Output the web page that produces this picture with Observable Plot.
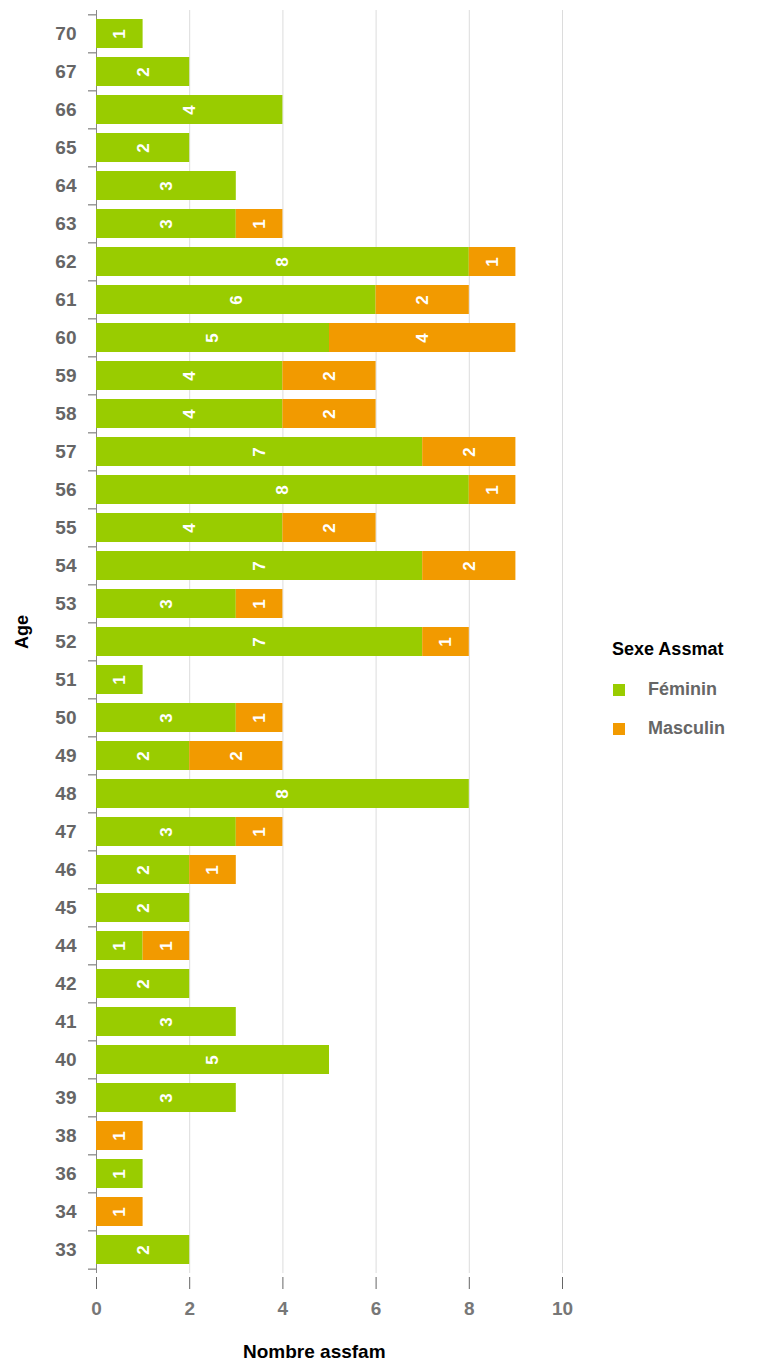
<!DOCTYPE html>
<html>
<head>
<meta charset="utf-8">
<script src="https://cdn.jsdelivr.net/npm/d3@7"></script>
<script src="https://cdn.jsdelivr.net/npm/@observablehq/plot@0.6"></script>
<style>
  body { margin: 0; background: #fff; }
  #wrap { position: relative; width: 758px; height: 1364px; font-family: "Liberation Sans", Arial, sans-serif; }
  .lbl { position: absolute; font-weight: bold; white-space: nowrap; }
  .sw { position: absolute; width: 12px; height: 12px; }
</style>
</head>
<body>
<div id="wrap"></div>
<script>
const ages = ["70","67","66","65","64","63","62","61","60","59","58","57","56","55","54","53","52","51","50","49","48","47","46","45","44","42","41","40","39","38","36","34","33"];
const feminin = [1,2,4,2,3,3,8,6,5,4,4,7,8,4,7,3,7,1,3,2,8,3,2,2,1,2,3,5,3,0,1,0,2];
const masculin = [0,0,0,0,0,1,1,2,4,2,2,2,1,2,2,1,1,0,1,2,0,1,1,0,1,0,0,0,0,1,0,1,0];
const series = ["Féminin","Masculin"];
const colors = ["#99cc00","#f29a00"];
const xTicks = [0,2,4,6,8,10];

const rows = [];
ages.forEach((a,i) => rows.push({age:a, sex:series[0], count:feminin[i]}));
ages.forEach((a,i) => rows.push({age:a, sex:series[1], count:masculin[i]}));
const nonzero = rows.filter(d => d.count > 0);

const W = 758, H = 1364, mt = 10, mb = 91, ml = 96, mr = 196;
const step = (H - mt - mb) / ages.length;

const chart = Plot.plot({
  width: W, height: H,
  marginTop: mt, marginBottom: mb, marginLeft: ml, marginRight: mr,
  style: {fontFamily: "'Liberation Sans', Arial, sans-serif", color: "#666", background: "#fff"},
  x: {domain: [0,10], axis: null, label: null},
  y: {domain: ages, paddingInner: 0.24, paddingOuter: 0.12, axis: null, label: null},
  color: {domain: series, range: colors},
  marks: [
    Plot.gridX(xTicks.filter(d => d > 0), {stroke: "#dcdcdc", strokeOpacity: 1}),
    Plot.ruleX([0], {stroke: "#888"}),
    Plot.barX(rows, Plot.stackX({x: "count", y: "age", fill: "sex"})),
    Plot.text(nonzero, Plot.stackX({x: "count", y: "age", z: "sex", text: d => String(d.count), rotate: -90, fill: "white", fontWeight: "bold", fontSize: 17})),
    Plot.axisY({tickSize: 8, text: null, label: null, dy: -step/2, stroke: "#666"}),
    Plot.axisY([ages[ages.length-1]], {tickSize: 8, text: null, label: null, dy: step/2, stroke: "#666"}),
    Plot.axisY({tickSize: 0, tickPadding: 20, label: null, fontSize: 19, fontWeight: "bold", fill: "#666"}),
    Plot.axisX({ticks: xTicks, tickSize: 12, dy: 4, tickPadding: 12, label: null, fontSize: 19, fontWeight: "bold", stroke: "#666", fill: "#777"})
  ]
});

const wrap = document.getElementById("wrap");
wrap.appendChild(chart);
chart.style.position = "absolute"; chart.style.left = "0"; chart.style.top = "0";

function addLabel(text, left, top, opts = {}) {
  const d = document.createElement("div");
  d.className = "lbl";
  d.textContent = text;
  d.style.left = left + "px"; d.style.top = top + "px";
  d.style.fontSize = (opts.size || 18) + "px";
  d.style.color = opts.color || "#000";
  wrap.appendChild(d);
  return d;
}
// x axis title
addLabel("Nombre assfam", 243, 1341, {size: 19});
// y axis title
const yt = addLabel("Age", 22, 632, {size: 18});
yt.style.transform = "translate(-50%,-50%) rotate(-90deg)";
// legend
addLabel("Sexe Assmat", 612, 639, {size: 18});
series.forEach((s, i) => {
  const sw = document.createElement("div");
  sw.className = "sw";
  sw.style.left = "613px"; sw.style.top = (684 + i*39) + "px";
  sw.style.background = colors[i];
  wrap.appendChild(sw);
  addLabel(s, 648, 679 + i*39, {size: 18, color: "#666"});
});
</script>
</body>
</html>
